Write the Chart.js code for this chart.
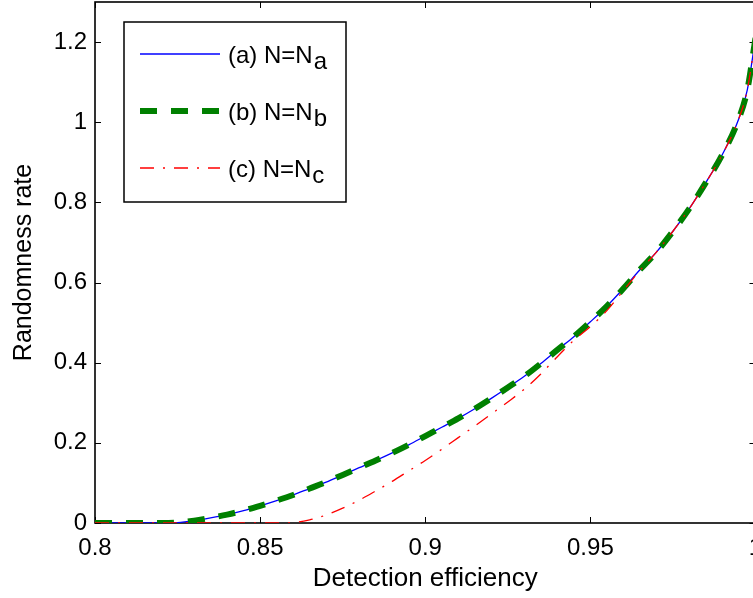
<!DOCTYPE html>
<html>
<head>
<meta charset="utf-8">
<script src="https://cdn.jsdelivr.net/npm/chart.js@4/dist/chart.umd.min.js"></script>
<style>
    html, body { margin: 0; padding: 0; background: #ffffff; overflow: hidden; }
    #wrap { width: 753px; height: 598px; overflow: hidden; }
</style>
</head>
<body>
<div id="wrap"><canvas id="grafico" width="762" height="598"></canvas></div>
<script>
// eficiencia de deteccao (eixo x)
const eficiencia = [
    0.800, 0.805, 0.810, 0.815, 0.820, 0.825, 0.830, 0.835, 0.840, 0.845,
    0.850, 0.855, 0.860, 0.865, 0.870, 0.875, 0.880, 0.885, 0.890, 0.895,
    0.900, 0.905, 0.910, 0.915, 0.920, 0.925, 0.930, 0.935, 0.940, 0.945,
    0.950, 0.955, 0.960, 0.965, 0.970, 0.975, 0.980, 0.985, 0.990, 0.995,
    0.9975, 1.000
];

// (a) N=Na
const serieA = [
    0, 0, 0, 0, 0, 0.001, 0.006, 0.013, 0.021, 0.031,
    0.043, 0.056, 0.070, 0.086, 0.102, 0.120, 0.138, 0.156, 0.175, 0.195,
    0.217, 0.239, 0.261, 0.285, 0.311, 0.338, 0.366, 0.398, 0.432, 0.465,
    0.502, 0.541, 0.585, 0.632, 0.676, 0.728, 0.785, 0.850, 0.920, 1.010,
    1.080, 1.210
];

// (b) N=Nb
const serieB = [
    0, 0, 0, 0, 0, 0.001, 0.006, 0.013, 0.021, 0.031,
    0.043, 0.056, 0.070, 0.086, 0.102, 0.120, 0.138, 0.156, 0.175, 0.195,
    0.217, 0.239, 0.261, 0.285, 0.311, 0.338, 0.366, 0.398, 0.432, 0.465,
    0.502, 0.541, 0.585, 0.632, 0.676, 0.728, 0.785, 0.850, 0.920, 1.010,
    1.080, 1.210
];

// (c) N=Nc
const serieC = [
    0, 0, 0, 0, 0, 0, 0, 0, 0, 0,
    0, 0, 0.001, 0.008, 0.020, 0.037, 0.057, 0.080, 0.104, 0.130,
    0.156, 0.184, 0.213, 0.242, 0.272, 0.302, 0.334, 0.372, 0.415, 0.456,
    0.490, 0.530, 0.580, 0.630, 0.676, 0.728, 0.785, 0.850, 0.920, 1.010,
    1.080, 1.210
];

const rotulosLegenda = ['(a) N=N', '(b) N=N', '(c) N=N'];
const subscritosLegenda = ['a', 'b', 'c'];

const xTicks = [0.8, 0.85, 0.9, 0.95, 1];
const yTicks = [0, 0.2, 0.4, 0.6, 0.8, 1, 1.2];

const fonte = "'Liberation Sans', Arial, Helvetica, sans-serif";

function pontos(valores) {
    return eficiencia.map((x, i) => ({ x: x, y: valores[i] }));
}

function formatar(v) {
    return String(+Number(v).toFixed(2));
}

// caixa do eixo + ticks para dentro (estilo matlab)
const caixaPlugin = {
    id: 'caixa',
    beforeDatasetsDraw(chart) {
        const { ctx, chartArea: a, scales } = chart;
        const tam = 6;
        ctx.save();
        ctx.strokeStyle = '#000000';
        ctx.lineWidth = 1;
        ctx.beginPath();
        scales.x.ticks.forEach(t => {
            const px = Math.round(scales.x.getPixelForValue(t.value)) + 0.5;
            ctx.moveTo(px, a.bottom); ctx.lineTo(px, a.bottom - tam);
            ctx.moveTo(px, a.top); ctx.lineTo(px, a.top + tam);
        });
        scales.y.ticks.forEach(t => {
            const py = Math.round(scales.y.getPixelForValue(t.value)) + 0.5;
            ctx.moveTo(a.left, py); ctx.lineTo(a.left + tam, py);
            ctx.moveTo(a.right, py); ctx.lineTo(a.right - tam, py);
        });
        ctx.stroke();
        ctx.lineWidth = 1.6;
        ctx.strokeRect(a.left, a.top, a.right - a.left, a.bottom - a.top);
        ctx.restore();
    }
};

// legenda com subscrito
const legendaPlugin = {
    id: 'legendaSub',
    afterDraw(chart) {
        const { ctx } = chart;
        const box = { x: 124, y: 22, w: 222, h: 180 };
        ctx.save();
        ctx.fillStyle = '#ffffff';
        ctx.fillRect(box.x, box.y, box.w, box.h);
        ctx.strokeStyle = '#000000';
        ctx.lineWidth = 1.5;
        ctx.strokeRect(box.x, box.y, box.w, box.h);

        chart.data.datasets.forEach((ds, i) => {
            const yLinha = 54 + i * 57;
            ctx.save();
            ctx.strokeStyle = ds.borderColor;
            ctx.lineWidth = ds.borderWidth;
            ctx.setLineDash(ds.borderDash || []);
            ctx.lineCap = 'butt';
            ctx.beginPath();
            ctx.moveTo(140, yLinha);
            ctx.lineTo(220, yLinha);
            ctx.stroke();
            ctx.restore();

            ctx.fillStyle = '#000000';
            ctx.font = '24px ' + fonte;
            ctx.textBaseline = 'alphabetic';
            ctx.textAlign = 'left';
            const base = yLinha + 9;
            ctx.fillText(rotulosLegenda[i], 228, base);
            const w = ctx.measureText(rotulosLegenda[i]).width;
            ctx.fillText(subscritosLegenda[i], 228 + w + 1, base + 6);
        });
        ctx.restore();
    }
};

const ctx = document.getElementById('grafico');

new Chart(ctx, {
    type: 'line',
    data: {
        datasets: [
            {
                label: rotulosLegenda[0] + subscritosLegenda[0],
                data: pontos(serieA),
                borderColor: '#0000ff',
                borderWidth: 1.3,
                order: 3
            },
            {
                label: rotulosLegenda[1] + subscritosLegenda[1],
                data: pontos(serieB),
                borderColor: '#008000',
                borderWidth: 6,
                borderDash: [17, 14],
                order: 2
            },
            {
                label: rotulosLegenda[2] + subscritosLegenda[2],
                data: pontos(serieC),
                borderColor: '#ff0000',
                borderWidth: 1.3,
                borderDash: [14, 9, 2, 9],
                order: 1
            }
        ]
    },
    options: {
        responsive: false,
        animation: false,
        clip: 0,
        elements: {
            point: { radius: 0 },
            line: { cubicInterpolationMode: 'monotone', borderCapStyle: 'butt' }
        },
        layout: { padding: { top: 2, right: 6.5, left: 0, bottom: 0 } },
        plugins: {
            legend: { display: false },
            tooltip: { enabled: false }
        },
        scales: {
            x: {
                type: 'linear',
                min: 0.8,
                max: 1.0,
                afterFit: s => {
                    s.height = 75;
                    s.paddingLeft = 0; s.paddingRight = 0;
                    s.paddingTop = 0; s.paddingBottom = 0;
                },
                afterBuildTicks: s => { s.ticks = xTicks.map(v => ({ value: v })); },
                grid: { display: false, drawTicks: false },
                border: { display: false },
                ticks: {
                    includeBounds: false,
                    maxRotation: 0,
                    padding: 11,
                    color: '#000000',
                    font: { family: fonte, size: 24 },
                    callback: v => formatar(v)
                },
                title: {
                    display: true,
                    text: 'Detection efficiency',
                    color: '#000000',
                    font: { family: fonte, size: 26 },
                    padding: { top: 0, bottom: 4 }
                }
            },
            y: {
                type: 'linear',
                min: 0,
                max: 1.3,
                afterFit: s => {
                    s.width = 95;
                    s.paddingLeft = 0; s.paddingRight = 0;
                    s.paddingTop = 0; s.paddingBottom = 0;
                },
                afterBuildTicks: s => { s.ticks = yTicks.map(v => ({ value: v })); },
                grid: { display: false, drawTicks: false },
                border: { display: false },
                ticks: {
                    includeBounds: false,
                    padding: 8,
                    color: '#000000',
                    font: { family: fonte, size: 24 },
                    callback: v => formatar(v)
                },
                title: {
                    display: true,
                    text: 'Randomness rate',
                    color: '#000000',
                    font: { family: fonte, size: 25 },
                    padding: { top: 9, bottom: 0 }
                }
            }
        }
    },
    plugins: [caixaPlugin, legendaPlugin]
});
</script>
</body>
</html>
